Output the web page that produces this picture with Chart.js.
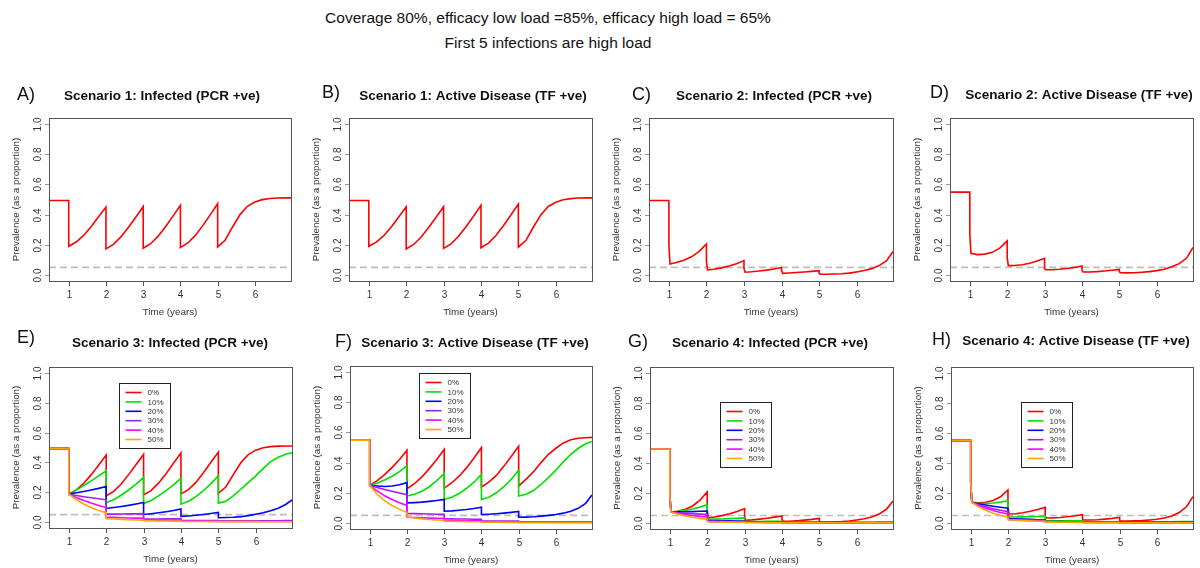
<!DOCTYPE html>
<html>
<head>
<meta charset="utf-8">
<script src="https://cdn.jsdelivr.net/npm/chart.js@4.4.0/dist/chart.umd.min.js"></script>
<style>
  body { margin: 0; background: #fff; width: 1200px; height: 568px; position: relative; overflow: hidden;
         font-family: "Liberation Sans", Arial, sans-serif; }
  .head { position: absolute; left: 0; width: 1096px; text-align: center; font-size: 15.5px;
          line-height: 18px; color: #111; }
  canvas { position: absolute; }
</style>
</head>
<body>
<div class="head" style="top:9px">Coverage 80%, efficacy low load =85%, efficacy high load = 65%</div>
<div class="head" style="top:34px">First 5 infections are high load</div>

<script>
// time grids (years); repeated x = vertical drop at each treatment round
const tSingle = [0.47,
  1, 1, 1.2, 1.4, 1.6, 1.8,
  2, 2, 2.2, 2.4, 2.6, 2.8,
  3, 3, 3.2, 3.4, 3.6, 3.8,
  4, 4, 4.2, 4.4, 4.6, 4.8,
  5, 5, 5.2, 5.4, 5.6, 5.8,
  6, 6.2, 6.4, 6.6, 6.8, 6.97];
const tDouble = [0.47,
  1, 1, 1.03, 1.2, 1.4, 1.6, 1.8,
  2, 2, 2.03, 2.2, 2.4, 2.6, 2.8,
  3, 3, 3.03, 3.2, 3.4, 3.6, 3.8,
  4, 4, 4.03, 4.2, 4.4, 4.6, 4.8,
  5, 5, 5.03, 5.2, 5.4, 5.6, 5.8,
  6, 6.2, 6.4, 6.6, 6.8, 6.97];

// Scenario 1
const s1Infected = [0.493,
  0.493, 0.190, 0.218, 0.262, 0.320, 0.385,
  0.450, 0.173, 0.203, 0.252, 0.315, 0.383,
  0.453, 0.177, 0.207, 0.257, 0.320, 0.390,
  0.462, 0.181, 0.212, 0.262, 0.327, 0.398,
  0.472, 0.186, 0.230, 0.318, 0.400, 0.455,
  0.483, 0.499, 0.507, 0.510, 0.511, 0.511];
const s1Disease = [0.493,
  0.493, 0.190, 0.217, 0.260, 0.318, 0.384,
  0.451, 0.172, 0.202, 0.251, 0.314, 0.382,
  0.452, 0.176, 0.206, 0.256, 0.319, 0.389,
  0.461, 0.180, 0.211, 0.261, 0.326, 0.397,
  0.470, 0.184, 0.228, 0.316, 0.398, 0.454,
  0.482, 0.498, 0.506, 0.510, 0.511, 0.511];

// Scenario 2
const s2Infected = [0.493,
  0.493, 0.200, 0.073, 0.082, 0.098, 0.120, 0.155,
  0.206, 0.088, 0.033, 0.038, 0.047, 0.059, 0.074,
  0.095, 0.044, 0.018, 0.021, 0.026, 0.032, 0.040,
  0.049, 0.031, 0.011, 0.013, 0.016, 0.020, 0.024,
  0.029, 0.012, 0.005, 0.005, 0.006, 0.008, 0.012,
  0.020, 0.029, 0.042, 0.062, 0.095, 0.155];
const s2Disease = [0.549,
  0.549, 0.270, 0.144, 0.135, 0.138, 0.150, 0.178,
  0.226, 0.115, 0.062, 0.063, 0.068, 0.078, 0.092,
  0.110, 0.044, 0.035, 0.035, 0.038, 0.043, 0.050,
  0.060, 0.029, 0.020, 0.020, 0.022, 0.026, 0.031,
  0.037, 0.020, 0.015, 0.014, 0.015, 0.018, 0.022,
  0.029, 0.038, 0.054, 0.075, 0.112, 0.182];

// Scenario 3, one series per level (0% .. 50%)
const s3Infected0 = [0.493,
  0.493, 0.187, 0.216, 0.260, 0.318, 0.383,
  0.449, 0.176, 0.206, 0.255, 0.318, 0.386,
  0.453, 0.182, 0.211, 0.261, 0.324, 0.394,
  0.464, 0.189, 0.217, 0.266, 0.331, 0.401,
  0.469, 0.193, 0.235, 0.318, 0.398, 0.452,
  0.482, 0.498, 0.506, 0.509, 0.510, 0.510];
const s3Infected10 = [0.493,
  0.493, 0.187, 0.215, 0.245, 0.276, 0.310,
  0.344, 0.131, 0.150, 0.180, 0.215, 0.255,
  0.300, 0.124, 0.145, 0.175, 0.210, 0.250,
  0.293, 0.120, 0.140, 0.170, 0.210, 0.258,
  0.311, 0.127, 0.140, 0.175, 0.220, 0.265,
  0.310, 0.360, 0.405, 0.435, 0.455, 0.465];
const s3Infected20 = [0.493,
  0.493, 0.187, 0.196, 0.205, 0.215, 0.226,
  0.238, 0.091, 0.097, 0.104, 0.112, 0.121,
  0.131, 0.051, 0.056, 0.062, 0.069, 0.077,
  0.087, 0.038, 0.041, 0.045, 0.051, 0.057,
  0.064, 0.029, 0.030, 0.032, 0.036, 0.043,
  0.052, 0.062, 0.075, 0.093, 0.118, 0.148];
const s3Infected30 = [0.493,
  0.493, 0.187, 0.178, 0.170, 0.163, 0.156,
  0.149, 0.053, 0.053, 0.054, 0.055, 0.055,
  0.056, 0.020, 0.020, 0.020, 0.021, 0.021,
  0.021, 0.010, 0.010, 0.010, 0.010, 0.010,
  0.010, 0.008, 0.008, 0.008, 0.008, 0.008,
  0.008, 0.008, 0.009, 0.009, 0.010, 0.010];
const s3Infected40 = [0.493,
  0.493, 0.187, 0.165, 0.145, 0.127, 0.111,
  0.097, 0.033, 0.031, 0.029, 0.027, 0.026,
  0.025, 0.013, 0.013, 0.012, 0.012, 0.012,
  0.011, 0.006, 0.006, 0.006, 0.005, 0.005,
  0.005, 0.004, 0.004, 0.004, 0.004, 0.004,
  0.004, 0.004, 0.004, 0.004, 0.004, 0.004];
const s3Infected50 = [0.493,
  0.493, 0.187, 0.150, 0.121, 0.098, 0.078,
  0.063, 0.022, 0.020, 0.018, 0.016, 0.014,
  0.013, 0.009, 0.008, 0.007, 0.007, 0.006,
  0.006, 0.004, 0.004, 0.004, 0.004, 0.003,
  0.003, 0.003, 0.003, 0.003, 0.003, 0.003,
  0.003, 0.002, 0.002, 0.002, 0.002, 0.002];

const s3Disease0 = [0.549,
  0.549, 0.249, 0.280, 0.320, 0.368, 0.420,
  0.482, 0.227, 0.260, 0.305, 0.360, 0.420,
  0.487, 0.231, 0.265, 0.310, 0.365, 0.430,
  0.500, 0.238, 0.270, 0.315, 0.375, 0.440,
  0.509, 0.244, 0.290, 0.340, 0.400, 0.455,
  0.495, 0.530, 0.551, 0.561, 0.565, 0.567];
const s3Disease10 = [0.549,
  0.549, 0.249, 0.265, 0.285, 0.310, 0.340,
  0.378, 0.178, 0.190, 0.210, 0.240, 0.280,
  0.327, 0.156, 0.170, 0.195, 0.230, 0.270,
  0.322, 0.156, 0.170, 0.200, 0.240, 0.290,
  0.349, 0.178, 0.190, 0.215, 0.255, 0.300,
  0.350, 0.405, 0.455, 0.495, 0.525, 0.540];
const s3Disease20 = [0.549,
  0.549, 0.249, 0.245, 0.242, 0.245, 0.253,
  0.267, 0.133, 0.135, 0.138, 0.143, 0.149,
  0.156, 0.078, 0.080, 0.084, 0.089, 0.096,
  0.104, 0.056, 0.058, 0.061, 0.065, 0.070,
  0.076, 0.038, 0.039, 0.041, 0.045, 0.050,
  0.056, 0.065, 0.078, 0.097, 0.130, 0.185];
const s3Disease30 = [0.549,
  0.549, 0.249, 0.235, 0.222, 0.210, 0.198,
  0.187, 0.064, 0.062, 0.061, 0.059, 0.058,
  0.057, 0.027, 0.027, 0.026, 0.026, 0.025,
  0.025, 0.013, 0.013, 0.013, 0.012, 0.012,
  0.012, 0.008, 0.008, 0.007, 0.007, 0.007,
  0.007, 0.007, 0.007, 0.008, 0.008, 0.008];
const s3Disease40 = [0.549,
  0.549, 0.249, 0.212, 0.180, 0.155, 0.134,
  0.116, 0.038, 0.036, 0.034, 0.032, 0.031,
  0.030, 0.016, 0.015, 0.015, 0.014, 0.014,
  0.014, 0.007, 0.007, 0.006, 0.006, 0.006,
  0.006, 0.004, 0.004, 0.004, 0.004, 0.004,
  0.003, 0.003, 0.003, 0.003, 0.003, 0.003];
const s3Disease50 = [0.549,
  0.549, 0.249, 0.190, 0.148, 0.115, 0.090,
  0.071, 0.040, 0.033, 0.027, 0.023, 0.020,
  0.018, 0.012, 0.011, 0.010, 0.009, 0.008,
  0.008, 0.005, 0.005, 0.005, 0.004, 0.004,
  0.004, 0.003, 0.003, 0.003, 0.003, 0.003,
  0.002, 0.002, 0.002, 0.002, 0.002, 0.002];

// Scenario 4
const s4Infected0 = [0.493,
  0.493, 0.196, 0.073, 0.078, 0.090, 0.112, 0.150,
  0.207, 0.090, 0.035, 0.040, 0.049, 0.061, 0.076,
  0.096, 0.045, 0.018, 0.021, 0.026, 0.032, 0.039,
  0.047, 0.025, 0.011, 0.012, 0.015, 0.019, 0.024,
  0.031, 0.012, 0.006, 0.006, 0.007, 0.009, 0.013,
  0.020, 0.028, 0.040, 0.060, 0.093, 0.147];
const s4Infected10 = [0.493,
  0.493, 0.196, 0.073, 0.077, 0.084, 0.093, 0.105,
  0.122, 0.050, 0.025, 0.026, 0.027, 0.029, 0.031,
  0.034, 0.015, 0.010, 0.010, 0.010, 0.011, 0.011,
  0.012, 0.008, 0.006, 0.006, 0.006, 0.006, 0.006,
  0.007, 0.005, 0.004, 0.004, 0.004, 0.004, 0.004,
  0.005, 0.005, 0.005, 0.006, 0.006, 0.007];
const s4Infected20 = [0.493,
  0.493, 0.196, 0.073, 0.074, 0.075, 0.076, 0.078,
  0.080, 0.030, 0.015, 0.015, 0.014, 0.014, 0.013,
  0.013, 0.008, 0.006, 0.006, 0.006, 0.005, 0.005,
  0.005, 0.004, 0.003, 0.003, 0.003, 0.003, 0.003,
  0.003, 0.003, 0.003, 0.003, 0.003, 0.003, 0.003,
  0.003, 0.003, 0.003, 0.003, 0.003, 0.003];
const s4Infected30 = [0.493,
  0.493, 0.196, 0.073, 0.069, 0.066, 0.062, 0.059,
  0.056, 0.020, 0.012, 0.011, 0.011, 0.010, 0.010,
  0.010, 0.006, 0.005, 0.005, 0.005, 0.004, 0.004,
  0.004, 0.003, 0.003, 0.003, 0.003, 0.003, 0.003,
  0.003, 0.002, 0.002, 0.002, 0.002, 0.002, 0.002,
  0.002, 0.002, 0.002, 0.002, 0.002, 0.002];
const s4Infected40 = [0.493,
  0.493, 0.196, 0.073, 0.065, 0.057, 0.050, 0.044,
  0.040, 0.015, 0.010, 0.009, 0.008, 0.008, 0.007,
  0.007, 0.005, 0.004, 0.004, 0.004, 0.003, 0.003,
  0.003, 0.002, 0.002, 0.002, 0.002, 0.002, 0.002,
  0.002, 0.002, 0.002, 0.002, 0.002, 0.002, 0.002,
  0.002, 0.002, 0.002, 0.002, 0.002, 0.002];
const s4Infected50 = [0.493,
  0.493, 0.196, 0.073, 0.060, 0.048, 0.038, 0.031,
  0.025, 0.012, 0.008, 0.007, 0.006, 0.006, 0.005,
  0.005, 0.004, 0.003, 0.003, 0.003, 0.003, 0.003,
  0.002, 0.002, 0.002, 0.002, 0.002, 0.002, 0.002,
  0.002, 0.002, 0.002, 0.002, 0.002, 0.002, 0.002,
  0.002, 0.002, 0.002, 0.002, 0.002, 0.002];

const s4Disease0 = [0.549,
  0.549, 0.270, 0.138, 0.135, 0.138, 0.150, 0.175,
  0.220, 0.110, 0.060, 0.062, 0.068, 0.078, 0.090,
  0.105, 0.045, 0.033, 0.034, 0.037, 0.042, 0.048,
  0.056, 0.027, 0.020, 0.020, 0.022, 0.026, 0.031,
  0.038, 0.018, 0.013, 0.013, 0.014, 0.016, 0.020,
  0.025, 0.033, 0.047, 0.070, 0.110, 0.176];
const s4Disease10 = [0.549,
  0.549, 0.270, 0.138, 0.131, 0.130, 0.133, 0.139,
  0.148, 0.070, 0.040, 0.040, 0.041, 0.042, 0.043,
  0.045, 0.020, 0.015, 0.015, 0.015, 0.015, 0.015,
  0.015, 0.010, 0.008, 0.008, 0.008, 0.008, 0.008,
  0.008, 0.007, 0.007, 0.007, 0.007, 0.007, 0.007,
  0.007, 0.008, 0.008, 0.009, 0.009, 0.010];
const s4Disease20 = [0.549,
  0.549, 0.270, 0.138, 0.128, 0.120, 0.112, 0.105,
  0.098, 0.045, 0.030, 0.028, 0.026, 0.024, 0.022,
  0.020, 0.012, 0.010, 0.009, 0.009, 0.008, 0.008,
  0.008, 0.006, 0.005, 0.005, 0.005, 0.005, 0.005,
  0.005, 0.004, 0.004, 0.004, 0.004, 0.004, 0.004,
  0.004, 0.004, 0.004, 0.004, 0.004, 0.004];
const s4Disease30 = [0.549,
  0.549, 0.270, 0.138, 0.122, 0.108, 0.095, 0.085,
  0.075, 0.035, 0.025, 0.023, 0.021, 0.019, 0.018,
  0.016, 0.010, 0.008, 0.008, 0.007, 0.007, 0.006,
  0.006, 0.005, 0.004, 0.004, 0.004, 0.004, 0.004,
  0.004, 0.003, 0.003, 0.003, 0.003, 0.003, 0.003,
  0.003, 0.003, 0.003, 0.003, 0.003, 0.003];
const s4Disease40 = [0.549,
  0.549, 0.270, 0.138, 0.117, 0.098, 0.083, 0.070,
  0.060, 0.030, 0.022, 0.020, 0.018, 0.016, 0.015,
  0.013, 0.008, 0.007, 0.006, 0.006, 0.006, 0.005,
  0.005, 0.004, 0.003, 0.003, 0.003, 0.003, 0.003,
  0.003, 0.002, 0.002, 0.002, 0.002, 0.002, 0.002,
  0.002, 0.002, 0.002, 0.002, 0.002, 0.002];
const s4Disease50 = [0.549,
  0.549, 0.270, 0.138, 0.110, 0.085, 0.065, 0.050,
  0.040, 0.027, 0.022, 0.019, 0.016, 0.014, 0.012,
  0.011, 0.008, 0.006, 0.006, 0.005, 0.005, 0.004,
  0.004, 0.003, 0.003, 0.003, 0.003, 0.003, 0.003,
  0.003, 0.002, 0.002, 0.002, 0.002, 0.002, 0.002,
  0.002, 0.002, 0.002, 0.002, 0.002, 0.002];

const levelLabels = ['0%', '10%', '20%', '30%', '40%', '50%'];
const levelColours = ['#FF0000', '#00E000', '#0000FF', '#A020F0', '#FF00FF', '#FFA500'];
const xTicks = [1, 2, 3, 4, 5, 6];
const yTicks = [0, 0.2, 0.4, 0.6, 0.8, 1.0];
const threshold = 0.05;

// panel layout: plot box [left, top, right, bottom] in page pixels
const panels = [
  { tag: 'A)', tagAt: [17, 95], title: 'Scenario 1: Infected (PCR +ve)', titleAt: [162, 96],
    t: tSingle, series: [s1Infected], box: [49, 118, 291, 281] },
  { tag: 'B)', tagAt: [322, 93], title: 'Scenario 1: Active Disease (TF +ve)', titleAt: [473, 96],
    t: tSingle, series: [s1Disease], box: [349, 118, 592, 281] },
  { tag: 'C)', tagAt: [632, 95], title: 'Scenario 2: Infected (PCR +ve)', titleAt: [774, 96],
    t: tDouble, series: [s2Infected], box: [649, 118, 893, 281] },
  { tag: 'D)', tagAt: [930, 93], title: 'Scenario 2: Active Disease (TF +ve)', titleAt: [1079, 95],
    t: tDouble, series: [s2Disease], box: [950, 118, 1193, 281] },
  { tag: 'E)', tagAt: [17, 338], title: 'Scenario 3: Infected (PCR +ve)', titleAt: [170, 343],
    t: tSingle, box: [49, 367, 292, 528], legend: [119, 383],
    series: [s3Infected0, s3Infected10, s3Infected20, s3Infected30, s3Infected40, s3Infected50] },
  { tag: 'F)', tagAt: [335, 342], title: 'Scenario 3: Active Disease (TF +ve)', titleAt: [475, 343],
    t: tSingle, box: [350, 366, 592, 529], legend: [419, 373],
    series: [s3Disease0, s3Disease10, s3Disease20, s3Disease30, s3Disease40, s3Disease50] },
  { tag: 'G)', tagAt: [628, 342], title: 'Scenario 4: Infected (PCR +ve)', titleAt: [770, 343],
    t: tDouble, box: [650, 367, 893, 529], legend: [720, 402],
    series: [s4Infected0, s4Infected10, s4Infected20, s4Infected30, s4Infected40, s4Infected50] },
  { tag: 'H)', tagAt: [932, 340], title: 'Scenario 4: Active Disease (TF +ve)', titleAt: [1076, 341],
    t: tDouble, box: [951, 367, 1193, 529], legend: [1021, 402],
    series: [s4Disease0, s4Disease10, s4Disease20, s4Disease30, s4Disease40, s4Disease50] }
];

const FONT = '"Liberation Sans", Arial, sans-serif';

// base-graphics look: boxed plot, outward ticks, rotated y labels, threshold line, inset legend
const decor = (p, ox, oy) => ({
  id: 'decor',
  beforeDatasetsDraw(chart) {
    const { ctx, chartArea: a, scales: { y } } = chart;
    const yy = y.getPixelForValue(threshold);
    ctx.save();
    ctx.strokeStyle = '#BDBDBD';
    ctx.lineWidth = 1.6;
    ctx.setLineDash([7, 4]);
    ctx.beginPath();
    ctx.moveTo(a.left, yy);
    ctx.lineTo(a.right, yy);
    ctx.stroke();
    ctx.restore();
  },
  afterDraw(chart) {
    const { ctx, chartArea: a, scales: { x, y } } = chart;
    ctx.save();
    // frame
    ctx.strokeStyle = '#555';
    ctx.lineWidth = 1;
    ctx.strokeRect(Math.round(a.left) + 0.5, Math.round(a.top) + 0.5,
                   Math.round(a.right - a.left), Math.round(a.bottom - a.top));

    // x axis
    ctx.fillStyle = '#333';
    ctx.font = '10px ' + FONT;
    ctx.textAlign = 'center';
    ctx.textBaseline = 'middle';
    ctx.beginPath();
    xTicks.forEach(v => {
      const px = Math.round(x.getPixelForValue(v)) + 0.5;
      ctx.moveTo(px, a.bottom);
      ctx.lineTo(px, a.bottom + 5);
      ctx.fillText(String(v), px, a.bottom + 14);
    });
    ctx.stroke();
    ctx.font = '9.8px ' + FONT;
    ctx.fillText('Time (years)', (a.left + a.right) / 2, a.bottom + 31);

    // y axis, labels parallel to the axis
    ctx.font = '10px ' + FONT;
    ctx.strokeStyle = '#999';
    ctx.beginPath();
    yTicks.forEach(v => {
      const py = Math.round(y.getPixelForValue(v)) + 0.5;
      ctx.moveTo(a.left, py);
      ctx.lineTo(a.left - 4, py);
      ctx.save();
      ctx.translate(a.left - 11, py);
      ctx.rotate(-Math.PI / 2);
      ctx.fillText(v.toFixed(1), 0, 0);
      ctx.restore();
    });
    ctx.stroke();
    ctx.save();
    ctx.font = '9.8px ' + FONT;
    ctx.translate(a.left - 33, (a.top + a.bottom) / 2);
    ctx.rotate(-Math.PI / 2);
    ctx.fillText('Prevalence (as a proportion)', 0, 0);
    ctx.restore();

    // panel title and tag
    ctx.fillStyle = '#111';
    ctx.font = 'bold 13.5px ' + FONT;
    ctx.fillText(p.title, p.titleAt[0] - ox, p.titleAt[1] - oy);
    ctx.textAlign = 'left';
    ctx.font = '18px ' + FONT;
    ctx.fillText(p.tag, p.tagAt[0] - ox, p.tagAt[1] - oy);

    // legend box
    if (p.legend) {
      const lx = Math.round(p.legend[0] - ox) + 0.5;
      const ly = Math.round(p.legend[1] - oy) + 0.5;
      ctx.fillStyle = '#fff';
      ctx.fillRect(lx, ly, 51, 65);
      ctx.strokeStyle = '#222';
      ctx.lineWidth = 1;
      ctx.strokeRect(lx, ly, 51, 65);
      ctx.font = '8px ' + FONT;
      ctx.fillStyle = '#333';
      chart.data.datasets.forEach((ds, k) => {
        const ry = ly + 9 + k * 9.4;
        ctx.strokeStyle = ds.borderColor;
        ctx.lineWidth = 1.6;
        ctx.beginPath();
        ctx.moveTo(lx + 6, ry);
        ctx.lineTo(lx + 22, ry);
        ctx.stroke();
        ctx.fillText(ds.label, lx + 28, ry + 0.5);
      });
    }
    ctx.restore();
  }
});

panels.forEach((p, i) => {
  const col = i % 4, row = Math.floor(i / 4);
  const ox = col * 300;
  const oy = row === 0 ? 70 : 320;
  const h = row === 0 ? 250 : 248;
  const canvas = document.createElement('canvas');
  canvas.width = 300;
  canvas.height = h;
  canvas.style.left = ox + 'px';
  canvas.style.top = oy + 'px';
  document.body.appendChild(canvas);

  new Chart(canvas, {
    type: 'scatter',
    data: {
      datasets: p.series.map((ys, k) => ({
        label: levelLabels[k],
        data: p.t.map((t, j) => ({ x: t, y: ys[j] })),
        showLine: true,
        borderColor: levelColours[k],
        borderWidth: 1.6,
        pointRadius: 0,
        tension: 0,
        order: p.series.length - k
      }))
    },
    options: {
      responsive: false,
      animation: false,
      devicePixelRatio: 1,
      layout: {
        padding: {
          left: p.box[0] - ox,
          top: p.box[1] - oy,
          right: ox + 300 - p.box[2],
          bottom: oy + h - p.box[3]
        }
      },
      scales: {
        x: { type: 'linear', min: 0.47, max: 6.97, display: false },
        y: { type: 'linear', min: -0.04, max: 1.04, display: false }
      },
      plugins: { legend: { display: false }, tooltip: { enabled: false } }
    },
    plugins: [decor(p, ox, oy)]
  });
});
</script>
</body>
</html>
